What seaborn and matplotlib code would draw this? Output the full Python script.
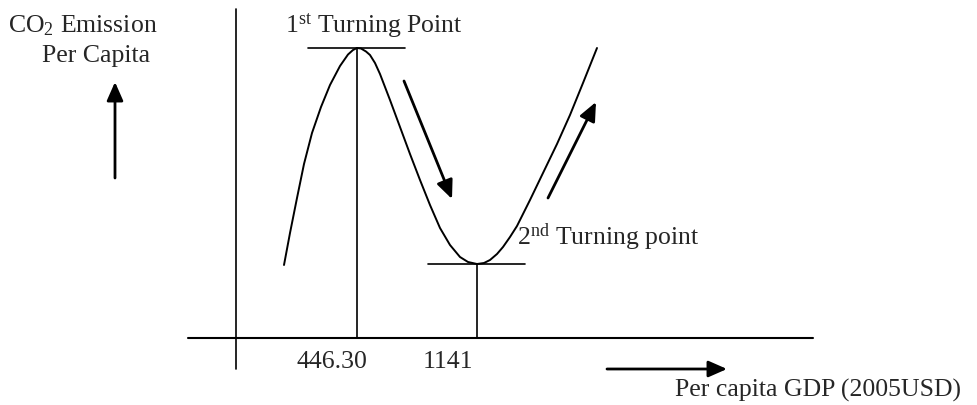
import matplotlib
matplotlib.use("Agg")
import matplotlib.pyplot as plt
import seaborn as sns
import pandas as pd

# schematic units: origin where the two axes cross, one unit ~ one pixel
gdp_pos = [48, 54, 61, 68, 76, 85, 94, 104, 112, 117, 121, 125, 130, 134, 139, 144,
           154, 164, 174, 184, 194, 204, 214, 224, 232, 241, 248, 254, 261, 267, 274,
           281, 294, 307, 321, 334, 347, 361]
co2_level = [73, 105, 140, 174, 205, 231, 253, 272, 283.5, 288, 290, 289.5, 286.5, 283, 275, 264,
             238, 211, 184, 158, 133, 110, 93, 81, 76, 74, 75, 78, 84, 91, 101,
             112, 138, 165, 194, 223, 255, 290]

turn_x = [121, 241]
turn_y = [290, 74]
tick_labels = ["446.30", "1141"]
tick_text_x = [96, 212]

sns.set_theme(style="white")
plt.rcParams["font.family"] = ["Liberation Serif", "DejaVu Serif"]
plt.rcParams["mathtext.fontset"] = "custom"
plt.rcParams["mathtext.rm"] = "Liberation Serif"
plt.rcParams["mathtext.it"] = "Liberation Serif:italic"

fig = plt.figure(figsize=(9.78, 4.06), dpi=100)
ax = fig.add_axes([0, 0, 1, 1])
ax.set_xlim(-236, 742)
ax.set_ylim(-67, 339)
ax.axis("off")

curve = pd.DataFrame({"gdp": gdp_pos, "co2": co2_level})
sns.lineplot(data=curve, x="gdp", y="co2", sort=False, estimator=None,
             color="black", lw=1.4, ax=ax)

# axes
ax.plot([0, 0], [-31, 329], color="black", lw=1.2)
ax.plot([-48, 577], [0, 0], color="black", lw=1.5)

# turning points: tangent and drop line
for tx, ty in zip(turn_x, turn_y):
    ax.plot([tx - 49, tx + 48], [ty, ty], color="black", lw=1.2)
    ax.plot([tx, tx], [0, ty], color="black", lw=1.2)

for lx, lab in zip(tick_text_x, tick_labels):
    ax.text(lx, -29, lab, ha="center", va="baseline", fontsize=18.5)

aprops = dict(arrowstyle="-|>,head_length=0.75,head_width=0.33", lw=2,
              color="black", mutation_scale=15, shrinkA=0, shrinkB=0)
ax.annotate("", xy=(216, 139), xytext=(168, 257), arrowprops=aprops)
ax.annotate("", xy=(360, 236), xytext=(312, 140), arrowprops=aprops)
ax.annotate("", xy=(-121, 256), xytext=(-121, 160), arrowprops=aprops)
ax.annotate("", xy=(491, -31), xytext=(371, -31), arrowprops=aprops)

ax.text(-228, 307, "CO$_2$ Emission", ha="left", va="baseline", fontsize=18.5)
ax.text(-194, 277, "Per Capita", ha="left", va="baseline", fontsize=18.5)
ax.text(49, 307, "1$^{\\rm st}$ Turning Point", ha="left", va="baseline", fontsize=18.5)
ax.text(281, 94, "2$^{\\rm nd}$ Turning point", ha="left", va="baseline", fontsize=18.5)
ax.text(439, -58, "Per capita GDP (2005USD)", ha="left", va="baseline", fontsize=18.5)

fig.savefig("out.png", dpi=100)
